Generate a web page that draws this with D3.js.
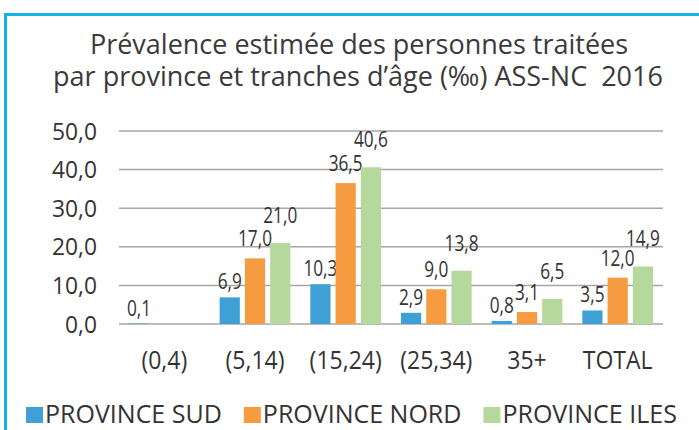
<!DOCTYPE html>
<html lang="fr">
<head>
<meta charset="UTF-8">
<title>Prévalence estimée</title>
<script src="https://cdnjs.cloudflare.com/ajax/libs/d3/7.8.5/d3.min.js"></script>
<style>
body { margin: 0; background: #fff; }
svg { display: block; }
text { font-family: "Open Sans", sans-serif; fill: #333; }
.title { font-size: 27px; fill: #3a3a3a; white-space: pre; }
.grid line { stroke: #a6a6a6; stroke-width: 1.5px; }
</style>
</head>
<body>
<script>
var categories = ["(0,4)", "(5,14)", "(15,24)", "(25,34)", "35+", "TOTAL"];
var series = ["PROVINCE SUD", "PROVINCE NORD", "PROVINCE ILES"];
var sud  = [0.1, 6.9, 10.3, 2.9, 0.8, 3.5];
var nord = [null, 17.0, 36.5, 9.0, 3.1, 12.0];
var iles = [null, 21.0, 40.6, 13.8, 6.5, 14.9];
var yTicks = [0, 10, 20, 30, 40, 50];
var colors = ["#3fa0d6", "#f79b40", "#b5d99c"];

var width = 699, height = 430;
var margin = { top: 131, right: 36, bottom: 106, left: 119 };
var squeeze = 0.82; // the original font is narrower than Open Sans

var svg = d3.select("body").append("svg")
  .attr("width", width)
  .attr("height", height);

// frame
svg.append("path")
  .attr("d", "M5.5," + height + " V14.5 H" + width)
  .attr("fill", "none")
  .attr("stroke", "#12b3ea")
  .attr("stroke-width", 3);

// title
var title = svg.append("text").attr("class", "title")
  .attr("text-anchor", "middle");
title.append("tspan").attr("x", 359).attr("y", 54)
  .text("Prévalence estimée des personnes traitées");
title.append("tspan").attr("x", 358).attr("y", 86)
  .text("par province et tranches d’âge (‰) ASS-NC  2016");

var x0 = d3.scaleBand()
  .domain(categories)
  .range([margin.left, width - margin.right])
  .paddingInner(0.22)
  .paddingOuter(0.11);

var x1 = d3.scaleBand()
  .domain(series)
  .range([0, x0.bandwidth()])
  .paddingInner(0.2);

var y = d3.scaleLinear()
  .domain([0, 50])
  .range([height - margin.bottom, margin.top]);

var fmt = function (v) { return d3.format(".1f")(v).replace(".", ","); };

// gridlines
var grid = svg.append("g").attr("class", "grid");
grid.selectAll("line").data(yTicks).enter().append("line")
  .attr("x1", margin.left)
  .attr("x2", width - margin.right)
  .attr("y1", function (d) { return y(d); })
  .attr("y2", function (d) { return y(d); });

// y tick labels
svg.append("g").selectAll("text").data(yTicks).enter().append("text")
  .attr("transform", function (d) { return "translate(97," + y(d) + ") scale(0.95,1)"; })
  .attr("dy", "0.36em")
  .attr("text-anchor", "end")
  .style("font-size", "24px")
  .text(fmt);

// bars
var table = categories.map(function (c, i) {
  return { cat: c, vals: [sud[i], nord[i], iles[i]] };
});

var lift = [8, 12, 20];

var groups = svg.append("g").selectAll("g").data(table).enter().append("g")
  .attr("transform", function (d) { return "translate(" + x0(d.cat) + ",0)"; });

var cells = groups.selectAll("g")
  .data(function (d) {
    return d.vals.map(function (v, j) { return { s: series[j], j: j, v: v }; })
      .filter(function (e) { return e.v != null; });
  })
  .enter().append("g");

cells.append("rect")
  .attr("x", function (d) { return x1(d.s); })
  .attr("y", function (d) { return y(d.v); })
  .attr("width", x1.bandwidth())
  .attr("height", function (d) { return y(0) - y(d.v); })
  .attr("fill", function (d) { return colors[d.j]; });

cells.append("text")
  .attr("transform", function (d) {
    return "translate(" + (x1(d.s) + x1.bandwidth() / 2) + "," + (y(d.v) - lift[d.j]) +
      ") scale(" + squeeze + ",1)";
  })
  .attr("text-anchor", "middle")
  .style("font-size", "21px")
  .text(function (d) { return fmt(d.v); });

// category labels
svg.append("g").selectAll("text").data(categories).enter().append("text")
  .attr("transform", function (d) {
    return "translate(" + (x0(d) + x0.bandwidth() / 2) + ",369) scale(0.92,1)";
  })
  .attr("text-anchor", "middle")
  .style("font-size", "25px")
  .text(function (d) { return d; });

// legend
var legend = svg.append("g").attr("transform", "translate(26,407)");
var lx = 0;
series.forEach(function (s, i) {
  var item = legend.append("g").attr("transform", "translate(" + lx + ",0)");
  item.append("rect").attr("width", 17).attr("height", 16).attr("fill", colors[i]);
  var t = item.append("text")
    .attr("x", 19).attr("y", 15.5)
    .style("font-size", "25px")
    .text(s);
  lx += 19 + t.node().getComputedTextLength() + 22;
});
</script>
</body>
</html>
